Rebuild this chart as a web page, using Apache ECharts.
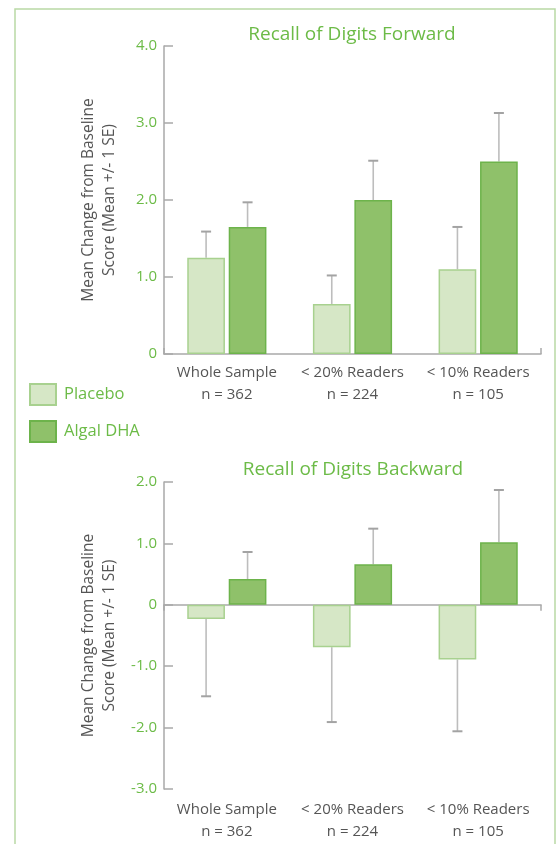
<!DOCTYPE html>
<html><head><meta charset="utf-8">
<script src="https://cdn.jsdelivr.net/npm/echarts@6/dist/echarts.min.js"></script>
<style>html,body{margin:0;padding:0;background:#fff}#c{width:557px;height:844px}</style>
</head><body><div id="c"></div>
<script>
const categories = ['Whole Sample\nn = 362', '< 20% Readers\nn = 224', '< 10% Readers\nn = 105'];
const seriesNames = ['Placebo', 'Algal DHA'];
const fwdPlacebo = [1.25, 0.65, 1.1];
const fwdPlaceboSE = [0.34, 0.37, 0.55];
const fwdDHA = [1.65, 2.0, 2.5];
const fwdDHASE = [0.32, 0.51, 0.63];
const bwdPlacebo = [-0.23, -0.69, -0.89];
const bwdPlaceboSE = [1.26, 1.22, 1.17];
const bwdDHA = [0.42, 0.66, 1.02];
const bwdDHASE = [0.44, 0.58, 0.85];
const fwdTicks = {min: 0, max: 4, interval: 1};
const bwdTicks = {min: -3, max: 2, interval: 1};
const titles = ['Recall of Digits Forward', 'Recall of Digits Backward'];
const yName = 'Mean Change from Baseline\nScore (Mean +/- 1 SE)';

const FONT = 'Open Sans';
const GREEN = '#6cbb47';
const AXIS = '#a9a9a9';
const placeboStyle = {color: '#d6e7c6', borderColor: '#a8d18f', borderWidth: 1.5};
const dhaStyle = {color: '#8fc16a', borderColor: '#6db34b', borderWidth: 1.5};
const BAR_W = 0.3, GAP = 0.1;

function errRender(sign) {
  return function (params, api) {
    const x = api.value(0), v = api.value(1), se = api.value(2);
    const band = api.size([1, 0])[0];
    const bw = band * BAR_W, g = bw * GAP;
    const off = sign * (bw + g) / 2;
    const p0 = api.coord([x, v]);
    const end = v >= 0 ? v + se : v - se;
    const p1 = api.coord([x, end]);
    const cx = p0[0] + off;
    return {type: 'group', children: [
      {type: 'line', shape: {x1: cx, y1: p0[1], x2: cx, y2: p1[1]}, style: {stroke: '#bdbdbd', lineWidth: 1.6}},
      {type: 'line', shape: {x1: cx - 5, y1: p1[1], x2: cx + 5, y2: p1[1]}, style: {stroke: '#a3a3a3', lineWidth: 2}}
    ]};
  };
}
function errData(vals, se) { return vals.map((v, i) => [i, v, se[i]]); }
function fmt(v) { return v === 0 ? '0' : v.toFixed(1); }

const yAxisBase = (t, gi) => ({
  type: 'value', gridIndex: gi, min: t.min, max: t.max, interval: t.interval,
  splitLine: {show: false},
  axisLine: {show: true, lineStyle: {color: AXIS, width: 1.5}},
  axisTick: {show: true, inside: true, length: 9, lineStyle: {color: AXIS, width: 1.5}},
  axisLabel: {color: GREEN, fontFamily: FONT, fontSize: 15, margin: 7, formatter: fmt},
  name: yName, nameLocation: 'middle', nameRotate: 90, nameGap: 44,
  nameTextStyle: {color: '#555', fontFamily: FONT, fontSize: 15.5, lineHeight: 21, align: 'center'}
});

const xLabel = (m) => ({color: '#555', fontFamily: FONT, fontSize: 15, lineHeight: 22, margin: m, interval: 0, hideOverlap: false});

const option = {
  animation: false,
  backgroundColor: '#fff',
  graphic: [{type: 'rect', shape: {x: 15, y: 9, width: 540, height: 900}, style: {fill: 'none', stroke: '#b9d9a5', lineWidth: 1.5}, silent: true}],
  title: [
    {text: titles[0], left: 347, top: 20, textAlign: 'center', textStyle: {color: GREEN, fontFamily: FONT, fontSize: 19, fontWeight: 'normal'}},
    {text: titles[1], left: 348, top: 455, textAlign: 'center', textStyle: {color: GREEN, fontFamily: FONT, fontSize: 19, fontWeight: 'normal'}}
  ],
  legend: {orient: 'vertical', left: 29, top: 383, padding: 0, icon: 'rect', itemWidth: 26, itemHeight: 21, itemGap: 14,
    data: seriesNames, textStyle: {color: GREEN, fontFamily: FONT, fontSize: 16.5, padding: [0, 0, 0, 3]}},
  grid: [
    {left: 164, right: 16, top: 46, height: 308},
    {left: 164, right: 16, top: 482, height: 307}
  ],
  xAxis: [
    {type: 'category', gridIndex: 0, data: categories,
      axisLine: {lineStyle: {color: AXIS, width: 1.5}},
      axisTick: {show: true, inside: true, length: 6, interval: (i) => i === 0, lineStyle: {color: AXIS, width: 1.5}},
      axisLabel: xLabel(8)},
    {type: 'category', gridIndex: 1, data: categories, position: 'bottom',
      axisLine: {show: true, onZero: true, lineStyle: {color: AXIS, width: 1.5}},
      axisTick: {show: true, inside: false, length: 6, interval: (i) => i === 0, lineStyle: {color: AXIS, width: 1.5}},
      axisLabel: {show: false}},
    {type: 'category', gridIndex: 1, data: categories, position: 'bottom',
      axisLine: {show: false, onZero: false}, axisTick: {show: false},
      axisLabel: xLabel(10)}
  ],
  yAxis: [yAxisBase(fwdTicks, 0), yAxisBase(bwdTicks, 1)],
  series: [
    {name: seriesNames[0], type: 'bar', xAxisIndex: 0, yAxisIndex: 0, data: fwdPlacebo, barWidth: '30%', barGap: '10%', itemStyle: placeboStyle},
    {name: seriesNames[1], type: 'bar', xAxisIndex: 0, yAxisIndex: 0, data: fwdDHA, barWidth: '30%', barGap: '10%', itemStyle: dhaStyle},
    {type: 'custom', xAxisIndex: 0, yAxisIndex: 0, data: errData(fwdPlacebo, fwdPlaceboSE), renderItem: errRender(-1), z: 1},
    {type: 'custom', xAxisIndex: 0, yAxisIndex: 0, data: errData(fwdDHA, fwdDHASE), renderItem: errRender(1), z: 1},
    {name: seriesNames[0], type: 'bar', xAxisIndex: 1, yAxisIndex: 1, data: bwdPlacebo, barWidth: '30%', barGap: '10%', itemStyle: placeboStyle},
    {name: seriesNames[1], type: 'bar', xAxisIndex: 1, yAxisIndex: 1, data: bwdDHA, barWidth: '30%', barGap: '10%', itemStyle: dhaStyle},
    {type: 'custom', xAxisIndex: 1, yAxisIndex: 1, data: errData(bwdPlacebo, bwdPlaceboSE), renderItem: errRender(-1), z: 1},
    {type: 'custom', xAxisIndex: 1, yAxisIndex: 1, data: errData(bwdDHA, bwdDHASE), renderItem: errRender(1), z: 1}
  ]
};
const chart = echarts.init(document.getElementById('c'), null, {renderer: 'canvas'});
chart.setOption(option);
</script></body></html>
